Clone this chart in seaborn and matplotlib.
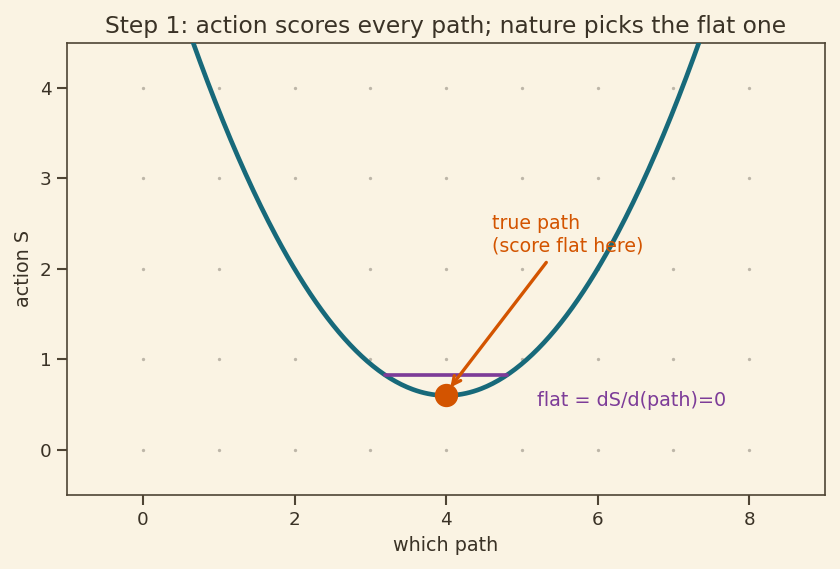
import numpy as np
import pandas as pd
import matplotlib
matplotlib.use("Agg")
import matplotlib.pyplot as plt
import seaborn as sns

# action curve S(path) = S_min + k * (path - path_true)^2
path_true = 4.0
s_min = 0.6
curvature = 0.35
path_grid = np.linspace(-1, 9, 400)
action = s_min + curvature * (path_grid - path_true) ** 2

# little flat segment around the minimum
flat_x = [3.2, 4.8]
flat_y = [0.824, 0.824]

# lattice of faint dots in the background
dot_x = list(range(0, 9))
dot_y = list(range(0, 5))

bg = '#FAF3E3'
teal = '#17697A'
orange = '#D35400'
purple = '#7D3C98'
ink = '#3a3226'

sns.set_theme(style='ticks')
plt.rcParams['font.family'] = ['DejaVu Sans']

fig, ax = plt.subplots(figsize=(7.0, 4.742), dpi=120)
fig.patch.set_facecolor(bg)
ax.set_facecolor(bg)

gx, gy = np.meshgrid(dot_x, dot_y)
ax.scatter(gx.ravel(), gy.ravel(), s=4, color='#bdb6a8', zorder=1, linewidths=0)

df = pd.DataFrame({'path': path_grid, 'S': action})
sns.lineplot(data=df, x='path', y='S', color=teal, linewidth=2.8, ax=ax, zorder=3)

ax.plot(flat_x, flat_y, color=purple, linewidth=2.2, zorder=4)
ax.plot([path_true], [s_min], 'o', color=orange, markersize=13, zorder=5)

ax.annotate('', xy=(4.03, 0.66), xytext=(5.35, 2.1),
            arrowprops=dict(arrowstyle='->', color=orange, lw=2), zorder=6)
ax.text(4.6, 2.15, 'true path\n(score flat here)', color=orange, fontsize=11.3,
        ha='left', va='bottom')
ax.text(5.2, 0.55, 'flat = dS/d(path)=0', color=purple, fontsize=11.5,
        ha='left', va='center')

ax.set_xlim(-1, 9)
ax.set_ylim(-0.5, 4.5)
ax.set_xticks([0, 2, 4, 6, 8])
ax.set_yticks([0, 1, 2, 3, 4])
ax.set_xlabel('which path', fontsize=11.5, color=ink)
ax.set_ylabel('action S', fontsize=11.5, color=ink)
ax.set_title('Step 1: action scores every path; nature picks the flat one',
             fontsize=14, color=ink)
for sp in ax.spines.values():
    sp.set_color('#4e4434')
    sp.set_linewidth(1.0)
ax.tick_params(colors=ink, labelsize=11, color='#4e4434')

fig.subplots_adjust(left=0.08, right=0.982, top=0.925, bottom=0.13)
fig.savefig('out.png', dpi=120, facecolor=bg)
